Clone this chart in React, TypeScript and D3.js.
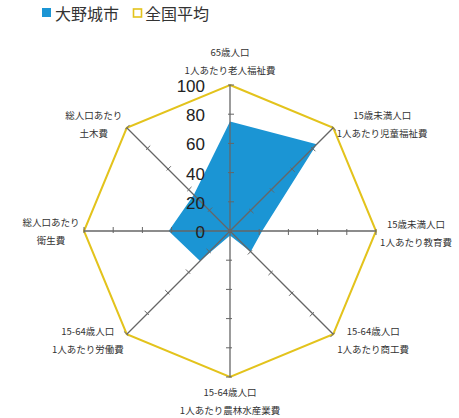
import * as d3 from "d3";

// axis labels (two lines each), clockwise from the top
const axisLabels = [
  ["65歳人口", "1人あたり老人福祉費"],
  ["15歳未満人口", "1人あたり児童福祉費"],
  ["15歳未満人口", "1人あたり教育費"],
  ["15-64歳人口", "1人あたり商工費"],
  ["15-64歳人口", "1人あたり農林水産業費"],
  ["15-64歳人口", "1人あたり労働費"],
  ["総人口あたり", "衛生費"],
  ["総人口あたり", "土木費"],
];

const onojoValues = [75, 84, 22, 20, 3, 29, 42, 35];
const nationalValues = [100, 100, 100, 100, 100, 100, 100, 100];
const tickValues = [0, 20, 40, 60, 80, 100];
const seriesNames = ["大野城市", "全国平均"];

// label nudges from each axis end
const labelOffsets = [
  [0, -24],
  [49, -4],
  [40, 2],
  [40, 6],
  [0, 24],
  [-39, 6],
  [-33, 0],
  [-33, -4],
];

const BLUE = "#1b95d4";
const YELLOW = "#e3c31c";
const GREY = "#666";
const FONT = "'Noto Sans CJK JP', 'Noto Sans', sans-serif";

export default function App() {
  const width = 459;
  const height = 418;
  const cx = 230;
  const cy = 231;

  const r = d3.scaleLinear().domain([0, 100]).range([0, 146]);
  const n = axisLabels.length;
  const angle = (i: number) => (i * 2 * Math.PI) / n;

  const radial = d3
    .lineRadial<number>()
    .angle((_, i) => angle(i))
    .radius((d) => r(d))
    .curve(d3.curveLinearClosed);

  const pt = (i: number, v: number) => [
    Math.sin(angle(i)) * r(v),
    -Math.cos(angle(i)) * r(v),
  ];

  return (
    <svg
      width={width}
      height={height}
      style={{ position: "absolute", left: 0, top: 0, background: "#fff" }}
      fontFamily={FONT}
    >
      {/* legend */}
      <rect x={42} y={8} width={9} height={9} fill={BLUE} />
      <text x={55} y={13} fontSize={16} fill="#333" dominantBaseline="central">
        {seriesNames[0]}
      </text>
      <rect x={133.5} y={9} width={8} height={8} fill="none" stroke={YELLOW} strokeWidth={1.6} />
      <text x={145} y={13} fontSize={16} fill="#333" dominantBaseline="central">
        {seriesNames[1]}
      </text>

      <g transform={`translate(${cx},${cy})`}>
        <path d={radial(onojoValues) ?? ""} fill={BLUE} />
        <path d={radial(nationalValues) ?? ""} fill="none" stroke={YELLOW} strokeWidth={2} />

        {/* axes with ticks */}
        {axisLabels.map((_, i) => {
          const [x2, y2] = pt(i, 100);
          const a = angle(i);
          const px = Math.cos(a);
          const py = Math.sin(a);
          return (
            <g key={i}>
              <line x1={0} y1={0} x2={x2} y2={y2} stroke={GREY} strokeWidth={1.3} />
              {tickValues.slice(1).map((t) => {
                const [tx, ty] = pt(i, t);
                return (
                  <line
                    key={t}
                    x1={tx - px * 2}
                    y1={ty - py * 2}
                    x2={tx + px * 4}
                    y2={ty + py * 4}
                    stroke={GREY}
                    strokeWidth={1}
                  />
                );
              })}
            </g>
          );
        })}
        <circle r={2} fill={GREY} />

        {/* scale labels */}
        {tickValues.map((t) => (
          <text
            key={t}
            x={-25}
            y={-r(t) + 1.5}
            fontSize={17}
            fontFamily="'Liberation Sans', Arial, sans-serif"
            textAnchor="end"
            dominantBaseline="central"
            fill="#222"
          >
            {t}
          </text>
        ))}

        {/* axis labels */}
        {axisLabels.map((lines, i) => {
          const [x, y] = pt(i, 100);
          const [dx, dy] = labelOffsets[i];
          return (
            <text
              key={i}
              x={x + dx}
              y={y + dy}
              fontSize={9.5}
              fill="#333"
              textAnchor="middle"
              dominantBaseline="central"
            >
              {lines.map((s, j) => (
                <tspan key={j} x={x + dx} y={y + dy + (j - 0.5) * 18}>
                  {s}
                </tspan>
              ))}
            </text>
          );
        })}
      </g>
    </svg>
  );
}
